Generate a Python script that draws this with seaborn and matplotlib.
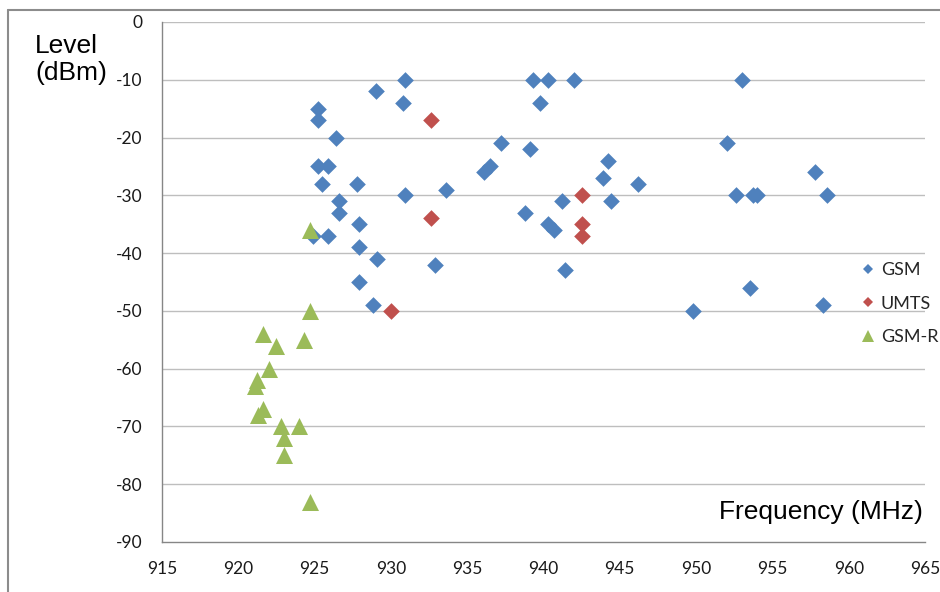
import matplotlib
matplotlib.use("Agg")
import matplotlib.pyplot as plt
from matplotlib.lines import Line2D
import seaborn as sns
import pandas as pd

# ---- data ----
gsm_freq = [925.2, 925.2, 926.4, 925.2, 925.9, 925.5, 927.8, 926.6, 926.6, 930.9,
            933.6, 927.9, 924.9, 925.9, 927.9, 929.1, 932.9, 927.9, 928.8, 930.9,
            929.0, 930.8, 939.3, 940.3, 942.0, 953.0, 939.8, 937.2, 939.1, 952.0,
            944.2, 936.1, 936.5, 943.9, 946.2, 941.2, 944.4, 938.8, 940.3, 940.7,
            941.4, 949.8, 953.5, 952.6, 953.7, 954.0, 957.8, 958.6, 958.3]
gsm_level = [-15, -17, -20, -25, -25, -28, -28, -31, -33, -30,
             -29, -35, -37, -37, -39, -41, -42, -45, -49, -10,
             -12, -14, -10, -10, -10, -10, -14, -21, -22, -21,
             -24, -26, -25, -27, -28, -31, -31, -33, -35, -36,
             -43, -50, -46, -30, -30, -30, -26, -30, -49]
umts_freq = [932.6, 932.6, 930.0, 942.5, 942.5, 942.5]
umts_level = [-17, -34, -50, -30, -35, -37]
gsmr_freq = [924.7, 924.7, 921.6, 922.5, 924.3, 922.0, 921.2, 921.1, 921.6, 921.3,
             922.8, 924.0, 923.0, 923.0, 924.7]
gsmr_level = [-36, -50, -54, -56, -55, -60, -62, -63, -67, -68,
              -70, -70, -72, -75, -83]
series_names = ["GSM", "UMTS", "GSM-R"]
x_ticks = [915, 920, 925, 930, 935, 940, 945, 950, 955, 960, 965]
y_ticks = [0, -10, -20, -30, -40, -50, -60, -70, -80, -90]

colors = {"GSM": "#4F81BD", "UMTS": "#C0504D", "GSM-R": "#9BBB59"}
markers = {"GSM": "D", "UMTS": "D", "GSM-R": "^"}
msizes = {"GSM": 72, "UMTS": 72, "GSM-R": 150}

df = pd.concat([
    pd.DataFrame({"freq": gsm_freq, "level": gsm_level, "series": "GSM"}),
    pd.DataFrame({"freq": umts_freq, "level": umts_level, "series": "UMTS"}),
    pd.DataFrame({"freq": gsmr_freq, "level": gsmr_level, "series": "GSM-R"}),
], ignore_index=True)

sns.set_style("white")
plt.rcParams["font.family"] = ["Liberation Sans", "DejaVu Sans"]
plt.rcParams["axes.unicode_minus"] = False

fig = plt.figure(figsize=(9.4, 5.92), dpi=100)
W, H = 940, 592

# outer chart border (top and left edges of the chart frame)
border_c = "#8C8C8C"
fig.add_artist(Line2D([8 / W, 1.0], [1 - 10 / H, 1 - 10 / H],
                      transform=fig.transFigure, color=border_c, lw=1.5))
fig.add_artist(Line2D([8 / W, 8 / W], [0.0, 1 - 10 / H],
                      transform=fig.transFigure, color=border_c, lw=1.5))

ax = fig.add_axes([162 / W, 1 - 542 / H, (925 - 162) / W, (542 - 22) / H])
ax.patch.set_alpha(0)

grid_c = "#BEBEBE"
axis_c = "#868686"
for yv in y_ticks[:-1]:
    ax.axhline(yv, color=grid_c, lw=1.0, zorder=0)

for name in series_names:
    sub = df[df["series"] == name]
    sns.scatterplot(data=sub, x="freq", y="level", ax=ax, color=colors[name],
                    marker=markers[name], s=msizes[name], linewidth=0,
                    legend=False, zorder=3)

ax.set_xlim(915, 965)
ax.set_ylim(-90, 0)
ax.set_xticks(x_ticks)
ax.set_yticks(y_ticks)
ax.set_xlabel("")
ax.set_ylabel("")
for s in ["top", "right"]:
    ax.spines[s].set_visible(False)
for s in ["left", "bottom"]:
    ax.spines[s].set_color(axis_c)
    ax.spines[s].set_linewidth(1.0)
ax.tick_params(axis="both", direction="out", color=axis_c, width=1.0,
               labelsize=12.5, labelcolor="#1a1a1a")
ax.tick_params(axis="x", length=4.5, pad=9)
ax.tick_params(axis="y", length=5, pad=9)
for lab in ax.get_xticklabels() + ax.get_yticklabels():
    lab.set_family(["Lato", "DejaVu Sans"])

# axis titles
fig.text(35 / W, 1 - 80 / H, "Level\n(dBm)", ha="left", va="baseline",
         fontsize=19, color="black", linespacing=1.15)
fig.text(923 / W, 1 - 519 / H, "Frequency (MHz)", ha="right", va="baseline",
         fontsize=19, color="black")

# legend
handles = [
    Line2D([], [], ls="none", marker="D", color=colors["GSM"], markersize=5.4, markeredgewidth=0),
    Line2D([], [], ls="none", marker="D", color=colors["UMTS"], markersize=5.4, markeredgewidth=0),
    Line2D([], [], ls="none", marker="^", color=colors["GSM-R"], markersize=9, markeredgewidth=0),
]
leg = fig.legend(handles, series_names, loc="upper left",
                 bbox_to_anchor=(861 / W, 1 - 262 / H), frameon=False,
                 handlelength=0.8, handletextpad=0.3, labelspacing=0.98,
                 borderaxespad=0, borderpad=0,
                 prop={"family": ["Lato", "DejaVu Sans"], "size": 13})

fig.savefig("out.png", dpi=100)
